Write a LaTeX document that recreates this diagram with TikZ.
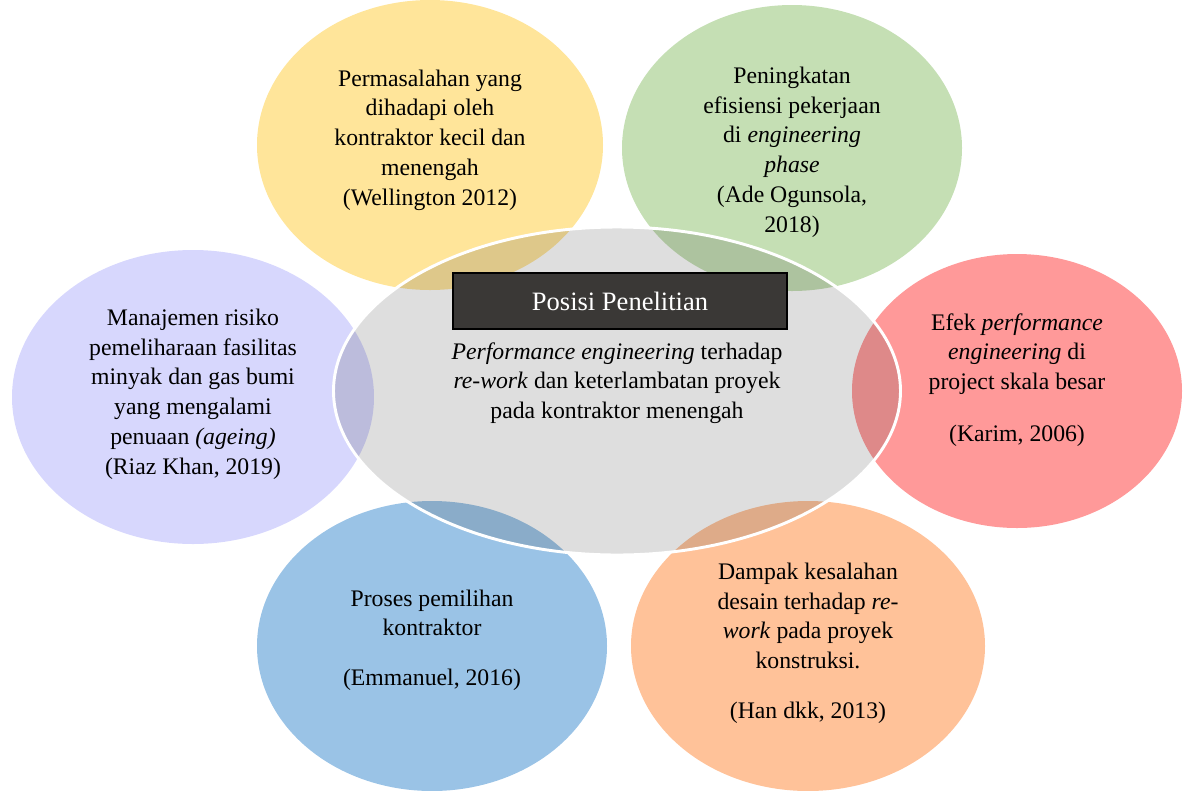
\documentclass[tikz,border=0pt]{standalone}
\usepackage{fontspec}
\setmainfont{Liberation Serif}
\usetikzlibrary{shapes.geometric}
\definecolor{cyellow}{RGB}{255,229,154}
\definecolor{cgreen}{RGB}{197,223,180}
\definecolor{cpurple}{RGB}{215,215,253}
\definecolor{cred}{RGB}{255,153,153}
\definecolor{cblue}{RGB}{154,195,230}
\definecolor{corange}{RGB}{255,194,153}
\definecolor{cshade}{RGB}{60,60,60}
\definecolor{cbox}{RGB}{58,56,54}
\newcommand\px{0.75pt}
\begin{document}
\begin{tikzpicture}[x=0.75pt,y=-0.75pt,
  bubble/.style={ellipse,draw=none,inner sep=0pt},
  label/.style={align=center,font=\fontsize{17.8}{22.3}\selectfont,inner sep=0pt},
  ]
\useasboundingbox (0,0) rectangle (1186,790);
% outer topic bubbles
\node[bubble,fill=cyellow,minimum width={346*\px},minimum height={290*\px}] (yel) at (430,145) {};
\node[bubble,fill=cgreen,minimum width={340*\px},minimum height={286*\px}] (grn) at (792,148) {};
\node[bubble,fill=cpurple,minimum width={362*\px},minimum height={294*\px}] (pur) at (193,397) {};
\node[bubble,fill=cred,minimum width={330*\px},minimum height={274*\px}] (red) at (1017,391) {};
\node[bubble,fill=cblue,minimum width={350*\px},minimum height={290*\px}] (blu) at (432,646) {};
\node[bubble,fill=corange,minimum width={354*\px},minimum height={290*\px}] (org) at (808,646) {};
% central translucent bubble
\node[bubble,fill=cshade,fill opacity=0.17,draw=white,draw opacity=1,line width=2.2pt,
  minimum width={567*\px},minimum height={328*\px}] (mid) at (617,391) {};
% heading box
\node[draw=black,line width=1.5pt,fill=cbox,text=white,minimum width={334*\px},minimum height={56*\px},
  inner sep=0pt,font=\fontsize{19.9}{24}\selectfont] (head) at (620,301) {Posisi Penelitian};
% texts
\node[label] (tmid) at (617,383) {\textit{Performance engineering} terhadap\\\textit{re-work} dan keterlambatan proyek\\pada kontraktor menengah};
\node[label] (tyel) at (430,140) {Permasalahan yang\\dihadapi oleh\\kontraktor kecil dan\\menengah\\(Wellington 2012)};
\node[label] (tgrn) at (792,152) {Peningkatan\\efisiensi pekerjaan\\di \textit{engineering}\\\textit{phase}\\(Ade Ogunsola,\\2018)};
\node[label] (tpur) at (193,394) {Manajemen risiko\\pemeliharaan fasilitas\\minyak dan gas bumi\\yang mengalami\\penuaan \textit{(ageing)}\\(Riaz Khan, 2019)};
\node[label] (tred) at (1017,354) {Efek \textit{performance}\\\textit{engineering} di\\project skala besar};
\node[label] (tred2) at (1017,436) {(Karim, 2006)};
\node[label] (tblu) at (432,613) {Proses pemilihan\\kontraktor};
\node[label] (tblu2) at (432,680) {(Emmanuel, 2016)};
\node[label] (torg) at (808,616) {Dampak kesalahan\\desain terhadap \textit{re-}\\\textit{work} pada proyek\\konstruksi.};
\node[label] (torg2) at (808,713) {(Han dkk, 2013)};
\end{tikzpicture}
\end{document}
